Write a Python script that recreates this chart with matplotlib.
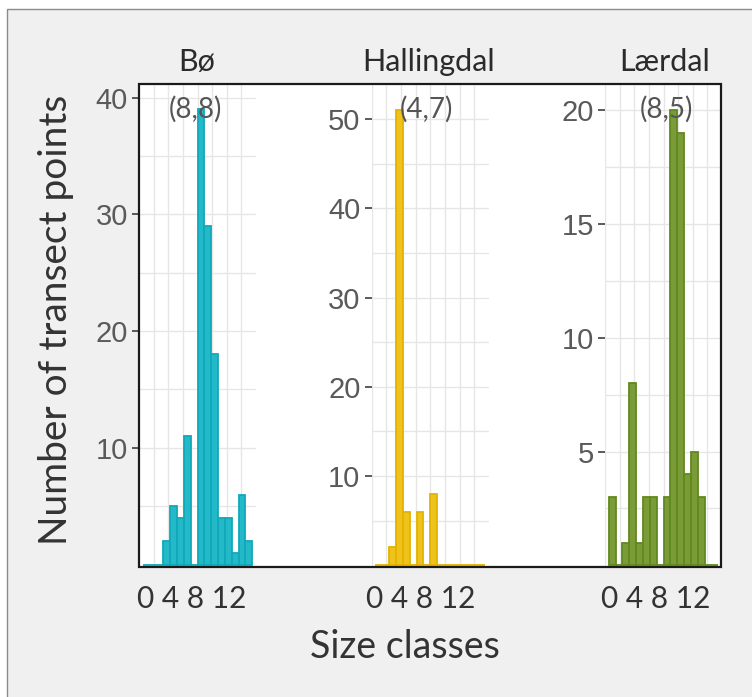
import numpy as np
import matplotlib
matplotlib.use("Agg")
import matplotlib.pyplot as plt
from matplotlib.patches import Rectangle

# ---- data -------------------------------------------------------------
sites = ["Bø", "Hallingdal", "Lærdal"]
size_classes = np.arange(16)
counts_bo = [0, 0, 0, 2, 5, 4, 11, 0, 39, 29, 18, 4, 4, 1, 6, 2]
counts_hallingdal = [0, 0, 2, 51, 6, 0, 6, 0, 8, 0, 0, 0, 0, 0, 0, 0]
counts_laerdal = [3, 0, 1, 8, 1, 3, 3, 0, 3, 20, 19, 4, 5, 3, 0, 0]
peak_labels = ["(8,8)", "(4,7)", "(8,5)"]
xtick_labels = [0, 4, 8, 12]
ytick_bo = [10, 20, 30, 40]
ytick_hallingdal = [10, 20, 30, 40, 50]
ytick_laerdal = [5, 10, 15, 20]

# ---- styling -------------------------------------------------------------
W, H = 752, 697
DPI = 100
edge_colors = ["#0fa9b9", "#e3b300", "#5f8a1c"]
fill_colors = ["#24b9c8", "#efc21c", "#7a9b37"]
grid_color = "#e6e6e6"
label_font = "Lato"
tick_font = "Liberation Sans"

fig = plt.figure(figsize=(W / DPI, H / DPI), dpi=DPI)
fig.patch.set_facecolor("white")


def fx(x):
    return x / W


def fy(y):
    return 1 - y / H


# grey backdrop with a thin frame on the left and top
fig.patches.append(Rectangle((fx(7), fy(H + 5)), fx(W), fy(9) - fy(H + 5),
                             transform=fig.transFigure, facecolor="#f0f0f0",
                             edgecolor="#8a8a8a", linewidth=1.0, zorder=-3))
# white plotting box (fill below the panels, black outline above them)
box_l, box_r, box_t, box_b = 139, 721, 83.5, 567
fig.patches.append(Rectangle((fx(box_l), fy(box_b)), fx(box_r - box_l),
                             fy(box_t) - fy(box_b), transform=fig.transFigure,
                             facecolor="white", edgecolor="none", zorder=-2))
fig.patches.append(Rectangle((fx(box_l), fy(box_b)), fx(box_r - box_l),
                             fy(box_t) - fy(box_b), transform=fig.transFigure,
                             facecolor="none", edgecolor="#1a1a1a",
                             linewidth=1.6, zorder=5))

panel_x = [(139, 256), (371.5, 489), (605, 722)]
ylims = [(-0.2, 41.2), (-0.2, 54.0), (-0.07, 21.16)]
minor_steps = [5, 5, 2.5]
yticks = [ytick_bo, ytick_hallingdal, ytick_laerdal]
all_counts = [counts_bo, counts_hallingdal, counts_laerdal]
xlim = (-0.55, 16.55)

for i, site in enumerate(sites):
    x0, x1 = panel_x[i]
    ax = fig.add_axes([fx(x0), fy(box_b), fx(x1 - x0), fy(box_t) - fy(box_b)])
    ax.set_facecolor("none")
    ax.set_xlim(*xlim)
    ax.set_ylim(*ylims[i])
    for s in ax.spines.values():
        s.set_visible(False)

    # grid: horizontal lines every minor step, vertical lines dividing the panel in 8
    ytop = ylims[i][1]
    yl = np.arange(minor_steps[i], ytop, minor_steps[i])
    for yv in yl:
        ax.axhline(yv, color=grid_color, lw=1.0, zorder=0)
    for xv in np.linspace(xlim[0], xlim[1], 9)[1:-1]:
        ax.axvline(xv, color=grid_color, lw=1.0, zorder=0)
    if i > 0:
        ax.axvline(xlim[0], color=grid_color, lw=1.0, zorder=0)

    ax.bar(size_classes, all_counts[i], width=1.0, align="edge",
           color=fill_colors[i], edgecolor=edge_colors[i], linewidth=1.3,
           zorder=3)

    ax.set_xticks([])
    ax.set_yticks(yticks[i])
    ax.tick_params(axis="y", length=5, width=1.3, color="#4d4d4d", pad=3,
                   labelsize=21, labelcolor="#5a5a5a")
    for lab in ax.get_yticklabels():
        lab.set_fontfamily(tick_font)

    # facet title
    fig.text(fx([197, 428.5, 665][i]), fy(62), site, ha="center", va="center",
             fontsize=22, family=label_font, color="#2b2b2b")
    # peak annotation
    fig.text(fx([195.5, 426.5, 666][i]), fy(109), peak_labels[i], ha="center",
             va="center", fontsize=20, family=label_font, color="#555555",
             zorder=2)
    # size-class labels below each panel
    fig.text(fx([192, 421, 656][i]), fy(599),
             " ".join(str(v) for v in xtick_labels), ha="center", va="center",
             fontsize=21.5, family=label_font, color="#333333")

fig.text(fx(405), fy(647), "Size classes", ha="center", va="center",
         fontsize=27, family=label_font, color="#333333")
fig.text(fx(56), fy(320), "Number of transect points", ha="center", va="center",
         rotation=90, fontsize=28, family=label_font, color="#333333")

fig.savefig("out.png", dpi=DPI)
